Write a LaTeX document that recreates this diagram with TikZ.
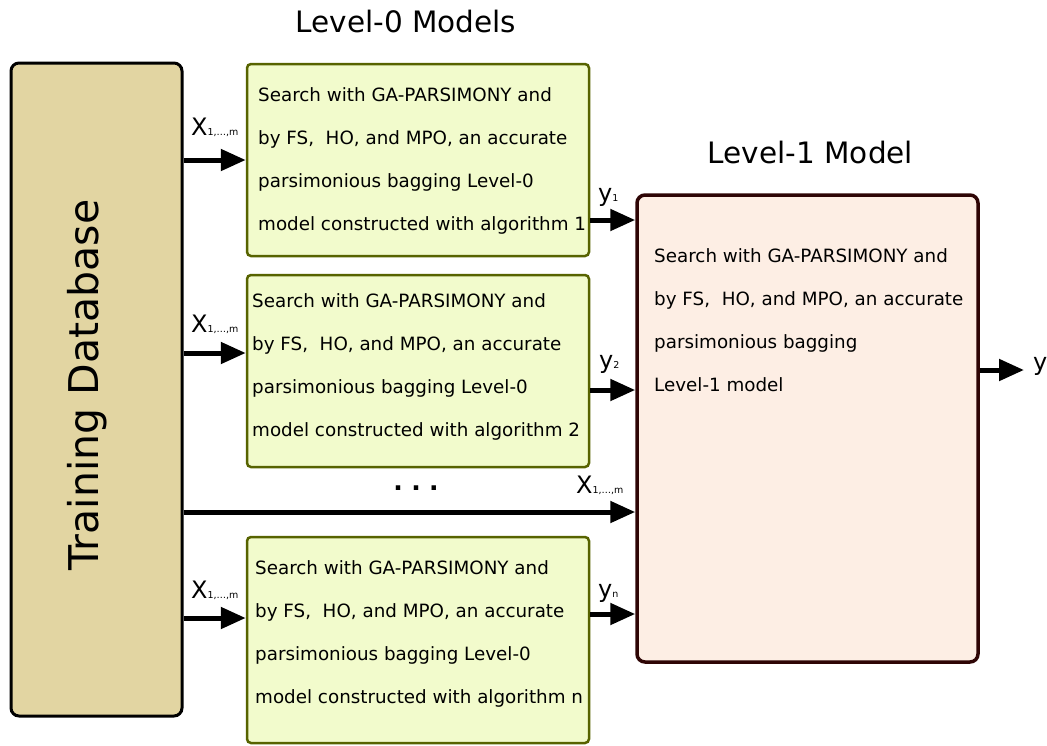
\documentclass[tikz,border=0pt]{standalone}
\usepackage{fontspec}
\setmainfont{DejaVu Sans}
\usetikzlibrary{arrows.meta}
\definecolor{tdfill}{HTML}{E2D5A2}
\definecolor{lzfill}{HTML}{F2FBCC}
\definecolor{lzdraw}{HTML}{576300}
\definecolor{lofill}{HTML}{FDEEE4}
\definecolor{lodraw}{HTML}{2E0505}
\tikzset{
  tdbox/.style={draw=black, line width=3pt, fill=tdfill, rounded corners=8pt, inner sep=0pt},
  lzbox/.style={draw=lzdraw, line width=2.5pt, fill=lzfill, rounded corners=4pt, inner sep=0pt},
  lobox/.style={draw=lodraw, line width=3.5pt, fill=lofill, rounded corners=8pt, inner sep=0pt},
  boxtext/.style={inner sep=0pt, anchor=north west, align=left, font=\fontsize{18.3}{43}\selectfont},
  title/.style={inner sep=0pt, anchor=base, font=\fontsize{29.5}{30}\selectfont},
  lbl/.style={inner sep=0pt, anchor=base west, font=\fontsize{24}{24}\selectfont},
  arr/.style={line width=5pt, -{Triangle[length=25pt,width=21pt]}}
}
\newcommand{\xsub}{X{\fontsize{9.5}{10}\selectfont 1,…,m}}
\newcommand{\ysub}[1]{y{\fontsize{9.5}{10}\selectfont #1}}
\begin{document}
\begin{tikzpicture}[x=1pt,y=-1pt]
\useasboundingbox (0,0) rectangle (1047,745);

% boxes
\node[tdbox, minimum width=171pt, minimum height=653pt] (td) at (96.5,389.5) {};
\node[lzbox, minimum width=342pt, minimum height=192pt] (b1) at (418,160) {};
\node[lzbox, minimum width=342pt, minimum height=192pt] (b2) at (418,371) {};
\node[lzbox, minimum width=342pt, minimum height=206pt] (b3) at (418,640) {};
\node[lobox, minimum width=341pt, minimum height=467pt] (lone) at (807.5,428.5) {};

% texts
\node[inner sep=0pt, rotate=90, font=\fontsize{41}{41}\selectfont] (tdtext) at (87,385) {Training Database};
\node[title] (t0) at (406,32) {Level-0 Models};
\node[title] (t1) at (810.5,163) {Level-1 Model};

\node[boxtext] (b1t) at (258,87.3) {Search with GA-PARSIMONY and\\by FS,~~HO, and MPO, an accurate\\parsimonious bagging Level-0\\model constructed with algorithm 1};
\node[boxtext] (b2t) at (252,293.3) {Search with GA-PARSIMONY and\\by FS,~~HO, and MPO, an accurate\\parsimonious bagging Level-0\\model constructed with algorithm 2};
\node[boxtext] (b3t) at (255,560.3) {Search with GA-PARSIMONY and\\by FS,~~HO, and MPO, an accurate\\parsimonious bagging Level-0\\model constructed with algorithm n};
\node[boxtext] (lt) at (654,248.3) {Search with GA-PARSIMONY and\\by FS,~~HO, and MPO, an accurate\\parsimonious bagging\\Level-1 model};

% connectors
\draw[arr] (td.east |- b1.west) -- (b1.west);
\draw[arr] (td.east |- {0,353}) -- (b2.west |- {0,353});
\draw[arr] (td.east |- {0,512}) -- (lone.west |- {0,512});
\draw[arr] (td.east |- {0,618}) -- (b3.west |- {0,618});
\draw[arr] (b1.east |- {0,220}) -- (lone.west |- {0,220});
\draw[arr] (b2.east |- {0,390}) -- (lone.west |- {0,390});
\draw[arr] (b3.east |- {0,614}) -- (lone.west |- {0,614});
\coordinate (yout) at (1024,370);
\draw[arr] (lone.east |- yout) -- (yout);

% labels
\node[lbl] (x1) at (191,135) {\xsub};
\node[lbl] (x2) at (191,332) {\xsub};
\node[lbl] (x3) at (576,493) {\xsub};
\node[lbl] (x4) at (191,598) {\xsub};
\node[lbl] (y1) at (598,201) {\ysub{1}};
\node[lbl] (y2) at (599,368) {\ysub{2}};
\node[lbl] (yn) at (598,597) {\ysub{n}};
\node[lbl] (yy) at (1033,370) {y};
\node[inner sep=0pt, anchor=base, font=\fontsize{25}{25}\selectfont\bfseries] (dots) at (416,490) {.\,\,.\,\,.};
\end{tikzpicture}
\end{document}
